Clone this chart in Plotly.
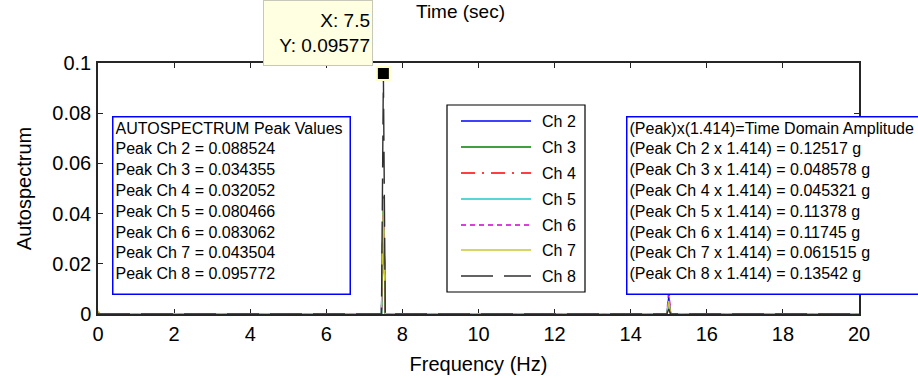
import plotly.graph_objects as go

# ---- data ----
freq = [0.0, 0.05, 7.45, 7.5, 7.55, 14.95, 15.0, 15.05, 20.0]
ch2 = [0.0, 0.0, 0.0, 0.0466, 0.0, 0.0, 0.0068, 0.0, 0.0]
ch3 = [0.0, 0.0, 0.0, 0.0455, 0.0, 0.0, 0.0040, 0.0, 0.0]
ch4 = [0.0, 0.0, 0.0, 0.0458, 0.0, 0.0, 0.0055, 0.0, 0.0]
ch5 = [0.0, 0.0, 0.0, 0.0470, 0.0, 0.0, 0.0050, 0.0, 0.0]
ch6 = [0.0008, 0.0, 0.0, 0.0472, 0.0, 0.0, 0.0095, 0.0, 0.0]
ch7 = [0.0012, 0.0, 0.0, 0.0460, 0.0, 0.0, 0.0052, 0.0, 0.0]
ch8 = [0.0, 0.0, 0.0, 0.09577, 0.0, 0.0, 0.0020, 0.0, 0.0]

channel_names = ["Ch 2", "Ch 3", "Ch 4", "Ch 5", "Ch 6", "Ch 7", "Ch 8"]
channel_values = [ch2, ch3, ch4, ch5, ch6, ch7, ch8]
channel_colors = ["#0000ff", "#008000", "#ff0000", "#1fc8c8", "#d000d0", "#c8c830", "#303030"]
channel_dash = ["solid", "solid", "14px,7px,2px,7px", "solid", "5px,4px", "solid", "32px,11px"]

peak_lines = ["AUTOSPECTRUM Peak Values",
              "Peak Ch 2 = 0.088524", "Peak Ch 3 = 0.034355", "Peak Ch 4 = 0.032052",
              "Peak Ch 5 = 0.080466", "Peak Ch 6 = 0.083062", "Peak Ch 7 = 0.043504",
              "Peak Ch 8 = 0.095772"]
amp_lines = ["(Peak)x(1.414)=Time Domain Amplitude",
             "(Peak Ch 2 x 1.414) = 0.12517 g", "(Peak Ch 3 x 1.414) = 0.048578 g",
             "(Peak Ch 4 x 1.414) = 0.045321 g", "(Peak Ch 5 x 1.414) = 0.11378 g",
             "(Peak Ch 6 x 1.414) = 0.11745 g", "(Peak Ch 7 x 1.414) = 0.061515 g",
             "(Peak Ch 8 x 1.414) = 0.13542 g"]

x_ticks = [0, 2, 4, 6, 8, 10, 12, 14, 16, 18, 20]
y_ticks = [0, 0.02, 0.04, 0.06, 0.08, 0.1]
y_ticktext = ["0", "0.02", "0.04", "0.06", "0.08", "0.1"]

FONT = "Liberation Sans, Arial, sans-serif"
W, H = 918, 378
ML, MR, MT, MB = 98, 59, 63, 64
PW, PH = W - ML - MR, H - MT - MB


def px(xp):
    return (xp - ML) / PW


def py(yp):
    return (H - MB - yp) / PH


fig = go.Figure()
for name, vals, col, dash in zip(channel_names, channel_values, channel_colors, channel_dash):
    fig.add_trace(go.Scatter(x=freq, y=vals, mode="lines", name=name, showlegend=False,
                             line=dict(color=col, width=1.4, dash=dash)))

# data tip marker on the Ch 8 peak
pk_i = max(range(len(ch8)), key=lambda k: ch8[k])
fig.add_trace(go.Scatter(x=[freq[pk_i]], y=[ch8[pk_i]], mode="markers", showlegend=False,
                         marker=dict(symbol="square", size=13, color="black",
                                     line=dict(color="#ffffc8", width=2)),
                         cliponaxis=False, hoverinfo="skip"))

fig.update_layout(
    width=W, height=H,
    margin=dict(l=ML, r=MR, t=MT, b=MB, autoexpand=False),
    paper_bgcolor="white", plot_bgcolor="white",
    font=dict(family=FONT, size=20, color="black"),
    showlegend=False,
)

fig.update_xaxes(range=[0, 20], tickvals=x_ticks, ticks="inside", ticklen=5, tickcolor="#222",
                 showline=True, linecolor="#262626", linewidth=1.5, mirror="ticks",
                 showgrid=False, zeroline=False, ticklabelstandoff=1, automargin=False,
                 layer="below traces",
                 title=dict(text="Frequency (Hz)", standoff=13, font=dict(size=20)))
fig.update_yaxes(range=[0, 0.1], tickvals=y_ticks, ticktext=y_ticktext,
                 ticks="inside", ticklen=5, tickcolor="#222",
                 showline=True, linecolor="#262626", linewidth=1.5, mirror="ticks",
                 showgrid=False, zeroline=False, ticklabelstandoff=1, automargin=False,
                 layer="below traces",
                 title=dict(text="Autospectrum", standoff=15, font=dict(size=20)))

# leftover title
fig.add_annotation(text="Time (sec)", xref="paper", yref="paper", x=px(460), y=py(12),
                   xanchor="center", yanchor="middle", showarrow=False,
                   font=dict(family=FONT, size=19))

# legend box (drawn by hand to match the long line samples)
fig.add_shape(type="rect", xref="paper", yref="paper", x0=px(447), x1=px(585),
              y0=py(292), y1=py(105), line=dict(color="black", width=1.2),
              fillcolor="white", layer="above")
row_y = [121, 147, 173, 199, 225, 250, 276]
for name, col, dash, ry in zip(channel_names, channel_colors, channel_dash, row_y):
    fig.add_shape(type="line", xref="paper", yref="paper", x0=px(461), x1=px(531),
                  y0=py(ry), y1=py(ry), line=dict(color=col, width=1.5, dash=dash), layer="above")
    fig.add_annotation(text=name, xref="paper", yref="paper", x=px(540), y=py(ry),
                       xanchor="left", yanchor="middle", showarrow=False,
                       font=dict(family=FONT, size=16))

# peak values box
fig.add_annotation(text="<br>".join(peak_lines), xref="paper", yref="paper",
                   x=px(112), y=py(116), xanchor="left", yanchor="top", showarrow=False,
                   align="left", valign="top", width=232, height=172, borderpad=2,
                   bordercolor="#0000ff", borderwidth=1.5, bgcolor="white",
                   font=dict(family=FONT, size=16))

# amplitude box
fig.add_annotation(text="<br>".join(amp_lines), xref="paper", yref="paper",
                   x=px(626), y=py(116), xanchor="left", yanchor="top", showarrow=False,
                   align="left", valign="top", width=288, height=172, borderpad=2,
                   bordercolor="#0000ff", borderwidth=1.5, bgcolor="white",
                   font=dict(family=FONT, size=16))

# data tip box
fig.add_annotation(text="X: 7.5<br>Y: 0.09577", xref="paper", yref="paper",
                   x=px(263), y=py(0), xanchor="left", yanchor="top",
                   showarrow=False, align="right", valign="middle",
                   width=104, height=60, borderpad=2,
                   bordercolor="#c8c8b8", borderwidth=1, bgcolor="#ffffe1",
                   font=dict(family=FONT, size=19))

fig.write_html("out.html", config={"displayModeBar": False},
               post_script="document.body.style.margin='0';")
